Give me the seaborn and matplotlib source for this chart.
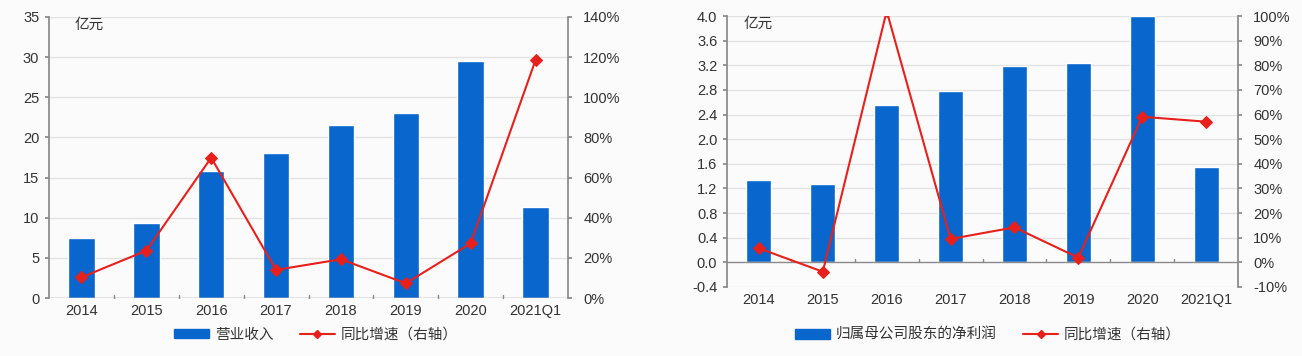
import numpy as np
import pandas as pd
import matplotlib
matplotlib.use("Agg")
import matplotlib.pyplot as plt
import seaborn as sns
from matplotlib.patches import Patch
from matplotlib.lines import Line2D

categories = ["2014", "2015", "2016", "2017", "2018", "2019", "2020", "2021Q1"]
revenue = [7.5, 9.3, 15.8, 18.1, 21.5, 23.1, 29.5, 11.3]
revenue_growth = [10.3, 23.6, 69.9, 14.0, 19.3, 7.3, 27.2, 118.6]
net_profit = [1.33, 1.27, 2.55, 2.79, 3.19, 3.24, 4.0, 1.55]
profit_growth = [5.7, -3.8, 102.0, 9.5, 14.2, 1.9, 59.1, 57.1]

left_ticks = [0, 5, 10, 15, 20, 25, 30, 35]
left_pct_ticks = [0, 20, 40, 60, 80, 100, 120, 140]
right_ticks = [-0.4, 0.0, 0.4, 0.8, 1.2, 1.6, 2.0, 2.4, 2.8, 3.2, 3.6, 4.0]
right_pct_ticks = [-10, 0, 10, 20, 30, 40, 50, 60, 70, 80, 90, 100]

label_bar_left = "营业收入"
label_bar_right = "归属母公司股东的净利润"
label_line = "同比增速（右轴）"
unit = "亿元"

sns.set_theme(style="white")
plt.rcParams["font.family"] = ["Liberation Sans", "Noto Sans CJK SC", "DejaVu Sans"]

BLUE = "#0866cc"
RED = "#e8201c"
GRID = "#e3e3e3"
SPINE = "#8a8a8a"
TXT = "#333333"
BG = "#fbfbfb"
FS = 10.5

W, H = 1302, 356
fig = plt.figure(figsize=(W / 100, H / 100), dpi=100, facecolor=BG)


def px_axes(x0, y0, x1, y1):
    return fig.add_axes([x0 / W, 1 - y1 / H, (x1 - x0) / W, (y1 - y0) / H])


def draw(ax, bars, growth, lticks, rticks, width, lfmt, bar_label, legend_x, unit_x):
    ax.set_facecolor(BG)
    df = pd.DataFrame({"cat": categories, "val": bars})
    sns.barplot(data=df, x="cat", y="val", ax=ax, color=BLUE, width=width,
                saturation=1, order=categories, zorder=2)
    ax.set_xlim(-0.5, len(categories) - 0.5)
    ax.set_ylim(lticks[0], lticks[-1])
    ax.set_yticks(lticks)
    ax.set_yticklabels([lfmt(t) for t in lticks])
    ax.set_xlabel("")
    ax.set_ylabel("")
    for t in lticks:
        if t != 0:
            ax.axhline(t, color=GRID, lw=1, zorder=0)
    ax.axhline(0, color=SPINE, lw=1, zorder=3)
    ax.set_xticks(np.arange(len(categories)))
    ax.set_xticklabels(categories)
    for b in np.arange(0.5, len(categories) - 0.5, 1):
        ax.plot([b, b], [0, (lticks[-1] - lticks[0]) * 0.012], color=SPINE, lw=1,
                zorder=3, clip_on=False)
    for s in ["top", "right", "bottom"]:
        ax.spines[s].set_visible(False)
    ax.spines["left"].set_color(SPINE)
    ax.tick_params(axis="y", left=True, length=3, color=SPINE, labelsize=FS,
                   labelcolor=TXT, pad=4)
    ax.tick_params(axis="x", bottom=False, length=0, labelsize=FS,
                   labelcolor=TXT, pad=4)
    ax.text(unit_x, 0.998, unit, transform=ax.transAxes, ha="left", va="top",
            fontsize=FS, color=TXT)

    ax2 = ax.twinx()
    gdf = pd.DataFrame({"cat": categories, "g": growth})
    sns.lineplot(data=gdf, x="cat", y="g", ax=ax2, color=RED, lw=1.5,
                 marker="D", markersize=6, markeredgecolor=RED, sort=False, zorder=4)
    ax2.set_xlim(-0.5, len(categories) - 0.5)
    ax2.set_ylim(rticks[0], rticks[-1])
    ax2.set_yticks(rticks)
    ax2.set_yticklabels([f"{t}%" for t in rticks])
    ax2.set_ylabel("")
    ax2.set_xlabel("")
    for s in ["top", "left", "bottom"]:
        ax2.spines[s].set_visible(False)
    ax2.spines["right"].set_visible(True)
    ax2.spines["right"].set_color(SPINE)
    ax2.tick_params(axis="y", right=True, length=3, color=SPINE, labelsize=FS,
                    labelcolor=TXT, pad=8)
    ax2.grid(False)

    handles = [Patch(facecolor=BLUE, edgecolor=BLUE),
               Line2D([0], [0], color=RED, lw=1.5, marker="D", markersize=4)]
    fig.legend(handles, [bar_label, label_line], loc="center",
               bbox_to_anchor=(legend_x / W, 1 - 335 / H), ncol=2, frameon=False,
               fontsize=FS, handlelength=2.4, handleheight=0.6, columnspacing=1.8,
               handletextpad=0.4, labelcolor=TXT)


ax_l = px_axes(49, 17, 568, 298)
draw(ax_l, revenue, revenue_growth, left_ticks, left_pct_ticks, 0.41,
     lambda t: f"{t:d}", label_bar_left, 316, 0.05)

ax_r = px_axes(727, 16, 1238, 287)
draw(ax_r, net_profit, profit_growth, right_ticks, right_pct_ticks, 0.39,
     lambda t: f"{t:.1f}", label_bar_right, 988, 0.032)

fig.savefig("out.png", dpi=100, facecolor=BG)
